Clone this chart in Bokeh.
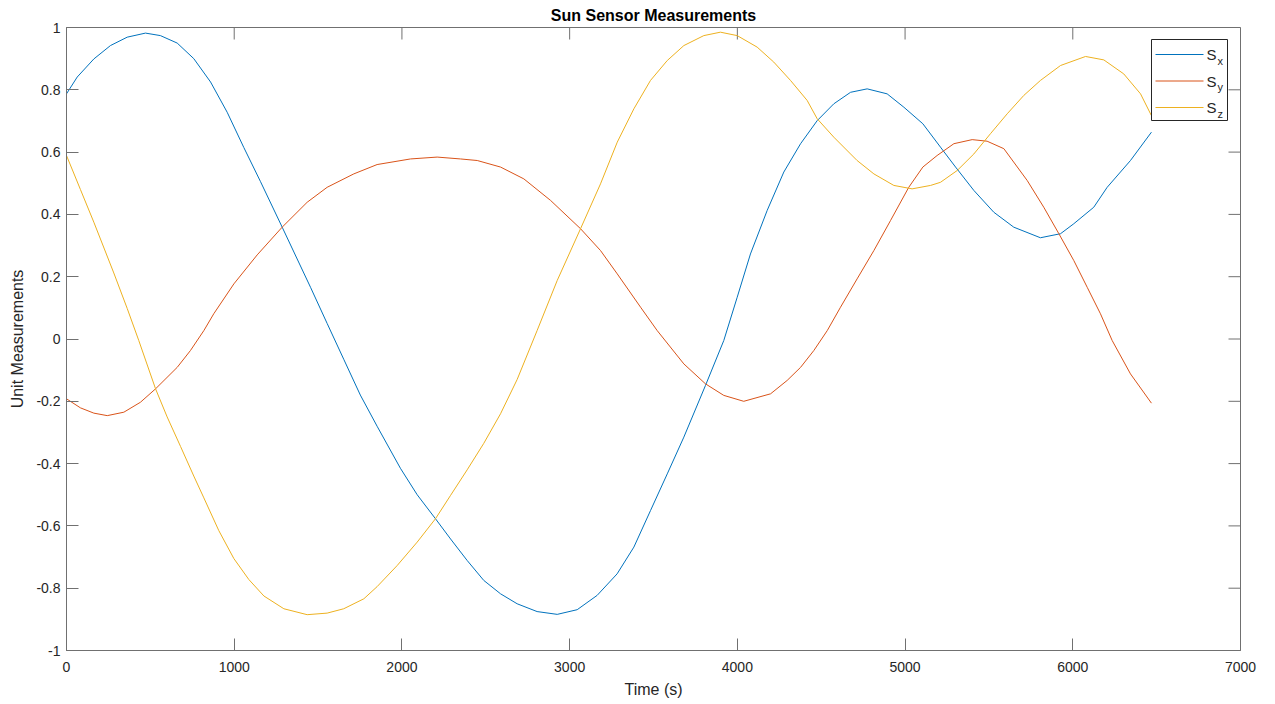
from bokeh.plotting import figure
from bokeh.models import FixedTicker, NumeralTickFormatter, Range1d
from bokeh.core.properties import value
from bokeh.embed import file_html
from bokeh.resources import INLINE

# Sun sensor unit-vector components over time (s)
t_x = [0, 64, 163, 262, 362, 471, 560, 660, 759, 859, 958, 1057, 1157, 1286, 1455,
       1554, 1653, 1752, 1852, 1991, 2091, 2200, 2290, 2389, 2488, 2588, 2687, 2806,
       2926, 3045, 3164, 3283, 3383, 3482, 3582, 3681, 3810, 3919, 3999, 4078, 4178,
       4277, 4377, 4476, 4575, 4675, 4774, 4893, 4993, 5106, 5211, 5301, 5410, 5529,
       5648, 5807, 5927, 6006, 6125, 6205, 6344, 6469]
s_x = [0.787, 0.841, 0.899, 0.942, 0.969, 0.982, 0.974, 0.950, 0.900, 0.825, 0.728,
       0.615, 0.505, 0.359, 0.166, 0.050, -0.065, -0.180, -0.280, -0.415, -0.500,
       -0.577, -0.642, -0.711, -0.775, -0.818, -0.850, -0.875, -0.884, -0.869, -0.823,
       -0.754, -0.668, -0.551, -0.433, -0.315, -0.149, -0.005, 0.134, 0.273, 0.413,
       0.536, 0.627, 0.701, 0.755, 0.792, 0.803, 0.787, 0.744, 0.691, 0.616, 0.552,
       0.477, 0.407, 0.359, 0.325, 0.338, 0.370, 0.423, 0.487, 0.573, 0.664]

t_y = [0, 83, 163, 243, 342, 441, 531, 660, 739, 819, 878, 998, 1137, 1286, 1435,
       1554, 1713, 1852, 2051, 2210, 2349, 2449, 2588, 2727, 2886, 3065, 3184, 3284,
       3423, 3522, 3681, 3810, 3919, 4038, 4198, 4297, 4377, 4456, 4536, 4615, 4714,
       4814, 4913, 5022, 5106, 5191, 5291, 5400, 5489, 5589, 5728, 5827, 5917, 6006,
       6086, 6165, 6235, 6344, 6469]
s_y = [-0.192, -0.221, -0.238, -0.246, -0.235, -0.203, -0.160, -0.091, -0.037, 0.027,
       0.081, 0.177, 0.270, 0.359, 0.439, 0.487, 0.530, 0.560, 0.578, 0.584, 0.578,
       0.573, 0.552, 0.514, 0.445, 0.354, 0.284, 0.209, 0.102, 0.027, -0.080, -0.144,
       -0.181, -0.200, -0.176, -0.133, -0.091, -0.037, 0.027, 0.102, 0.193, 0.284,
       0.380, 0.487, 0.552, 0.589, 0.627, 0.640, 0.635, 0.611, 0.509, 0.423, 0.338,
       0.252, 0.166, 0.081, -0.005, -0.112, -0.206]

t_z = [0, 83, 163, 282, 362, 431, 531, 600, 680, 759, 819, 908, 998, 1087, 1177,
       1296, 1435, 1554, 1653, 1773, 1852, 1972, 2091, 2200, 2290, 2389, 2488, 2588,
       2687, 2806, 2926, 3065, 3184, 3284, 3383, 3482, 3582, 3681, 3800, 3899, 3999,
       4118, 4217, 4317, 4416, 4476, 4575, 4675, 4714, 4814, 4933, 5042, 5152, 5211,
       5311, 5410, 5509, 5609, 5708, 5807, 5927, 6076, 6185, 6304, 6404, 6469]
s_z = [0.589, 0.480, 0.375, 0.212, 0.098, -0.005, -0.160, -0.250, -0.345, -0.440,
       -0.510, -0.615, -0.705, -0.772, -0.825, -0.866, -0.885, -0.880, -0.866, -0.834,
       -0.795, -0.727, -0.652, -0.577, -0.502, -0.420, -0.335, -0.240, -0.130, 0.027,
       0.188, 0.354, 0.498, 0.632, 0.739, 0.830, 0.894, 0.942, 0.974, 0.985, 0.974,
       0.937, 0.889, 0.830, 0.766, 0.707, 0.648, 0.594, 0.573, 0.530, 0.493, 0.482,
       0.493, 0.503, 0.541, 0.594, 0.659, 0.723, 0.782, 0.830, 0.878, 0.907, 0.896,
       0.851, 0.787, 0.717]

x_ticks = [0, 1000, 2000, 3000, 4000, 5000, 6000, 7000]
y_ticks = [-1, -0.8, -0.6, -0.4, -0.2, 0, 0.2, 0.4, 0.6, 0.8, 1]
legend_main = ["S", "S", "S"]
legend_sub = ["x", "y", "z"]
colors = ["#0072BD", "#D95319", "#EDB120"]

FONT = "Liberation Sans"
AX_COLOR = "#262626"
BOX_COLOR = "#707070"
X0, X1, Y0, Y1 = 0, 7000, -1, 1

W, H = 1275, 704
LEFT, RIGHT, TOP, BOTTOM = 66, 35, 27, 54
frame_w = W - LEFT - RIGHT
frame_h = H - TOP - BOTTOM
TICK_PX = 12


def px_x(px):
    """Canvas x pixel -> data x."""
    return X0 + (px - LEFT) / frame_w * (X1 - X0)


def px_y(py):
    """Canvas y pixel -> data y."""
    return Y1 - (py - TOP) / frame_h * (Y1 - Y0)


p = figure(width=W, height=H, x_range=Range1d(X0, X1), y_range=Range1d(Y0, Y1),
           output_backend="svg", toolbar_location=None,
           min_border_left=LEFT, min_border_right=RIGHT,
           min_border_top=TOP, min_border_bottom=BOTTOM,
           title="Sun Sensor Measurements")
p.background_fill_color = "white"
p.border_fill_color = "white"
p.outline_line_color = BOX_COLOR
p.outline_line_width = 1
p.grid.visible = False

p.title.align = "center"
p.title.text_font = FONT
p.title.text_font_size = "16px"
p.title.text_font_style = "bold"
p.title.text_color = "#000000"
p.title.standoff = 7
p.title.offset = 0

p.xaxis.axis_label = "Time (s)"
p.yaxis.axis_label = "Unit Measurements"
p.xaxis.ticker = FixedTicker(ticks=x_ticks)
p.yaxis.ticker = FixedTicker(ticks=y_ticks)
p.xaxis.formatter = NumeralTickFormatter(format="0")
p.yaxis.formatter = NumeralTickFormatter(format="0.[0]")
for ax in (p.xaxis[0], p.yaxis[0]):
    ax.axis_line_color = BOX_COLOR
    ax.major_tick_line_color = BOX_COLOR
    ax.major_tick_in = TICK_PX
    ax.major_tick_out = 0
    ax.minor_tick_line_color = None
    ax.major_label_text_font = FONT
    ax.major_label_text_font_size = "14px"
    ax.major_label_text_color = AX_COLOR
    ax.axis_label_text_font = FONT
    ax.axis_label_text_font_size = "16px"
    ax.axis_label_text_font_style = "normal"
    ax.axis_label_text_color = AX_COLOR
p.xaxis.major_label_standoff = 11
p.xaxis.axis_label_standoff = 6
p.yaxis.major_label_standoff = 6
p.yaxis.axis_label_standoff = 7

# tick marks along the top and right edges of the box
dy = TICK_PX / frame_h * (Y1 - Y0)
dx = TICK_PX / frame_w * (X1 - X0)
p.segment(x0=x_ticks, y0=[Y1] * len(x_ticks), x1=x_ticks, y1=[Y1 - dy] * len(x_ticks),
          line_color=BOX_COLOR, line_width=1)
p.segment(x0=[X1] * len(y_ticks), y0=y_ticks, x1=[X1 - dx] * len(y_ticks), y1=y_ticks,
          line_color=BOX_COLOR, line_width=1)

for ts, vs, c in ((t_x, s_x, colors[0]), (t_y, s_y, colors[1]), (t_z, s_z, colors[2])):
    p.line(ts, vs, line_color=c, line_width=1)

# legend box (top right), drawn over the curves
LG_L, LG_R, LG_T, LG_B = 1151, 1227, 39, 120
ROW0, ROW_STEP = 54, 26.5
rows = [ROW0 + ROW_STEP * i for i in range(3)]
p.quad(left=[px_x(LG_L)], right=[px_x(LG_R)], top=[px_y(LG_T)], bottom=[px_y(LG_B)],
       fill_color="white", line_color=AX_COLOR, line_width=1)
p.segment(x0=[px_x(1155)] * 3, x1=[px_x(1203)] * 3,
          y0=[px_y(r) for r in rows], y1=[px_y(r) for r in rows],
          line_color=colors, line_width=1)
p.text(x=[px_x(1206)] * 3, y=[px_y(r) for r in rows], text=legend_main,
       text_font=value(FONT), text_font_size="15px", text_color=AX_COLOR,
       text_baseline="middle", text_align="left")
p.text(x=[px_x(1217)] * 3, y=[px_y(r + 6) for r in rows], text=legend_sub,
       text_font=value(FONT), text_font_size="11px", text_color=AX_COLOR,
       text_baseline="middle", text_align="left")

open("out.html", "w").write(file_html(p, INLINE))
